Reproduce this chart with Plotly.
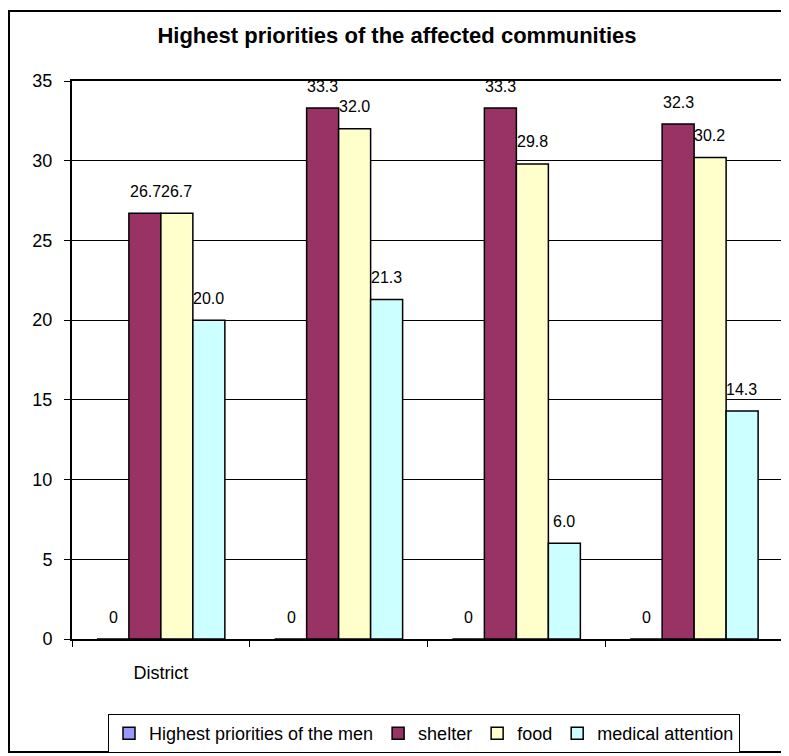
import plotly.graph_objects as go

categories = ["District", " ", "  ", "   "]
series_names = ["Highest priorities of the men", "shelter", "food", "medical attention"]
men = [0, 0, 0, 0]
shelter = [26.7, 33.3, 33.3, 32.3]
food = [26.7, 32.0, 29.8, 30.2]
medical = [20.0, 21.3, 6.0, 14.3]
label_fmt = ["{:.0f}", "{:.1f}", "{:.1f}", "{:.1f}"]
colors = ["#9999FF", "#993366", "#FFFFCC", "#CCFFFF"]
y_ticks = [0, 5, 10, 15, 20, 25, 30, 35]

FONT = "Liberation Sans, Arial, sans-serif"
all_series = [men, shelter, food, medical]

# page has an 8px body margin; work in figure coordinates
W, H = 781, 748
L, R, T, B = 64, 6, 73, 117
PW, PH = W - L - R, H - T - B

fig = go.Figure()
for name, vals, col in zip(series_names, all_series, colors):
    fig.add_trace(go.Bar(
        x=categories, y=vals, name=name,
        marker=dict(color=col, line=dict(color="black", width=1.5)),
    ))

bar_px = 31.7
annotations = []
for i, (vals, fmt) in enumerate(zip(all_series, label_fmt)):
    for c, v in zip(categories, vals):
        annotations.append(dict(
            x=c, y=v, xref="x", yref="y", text=fmt.format(v), showarrow=False,
            xshift=(i - 1.5) * bar_px, yshift=22,
            font=dict(family=FONT, size=16, color="black"),
        ))

fig.update_layout(
    width=W, height=H,
    margin=dict(l=L, r=R, t=T, b=B, autoexpand=False),
    paper_bgcolor="white", plot_bgcolor="white",
    barmode="group", bargap=0.28, bargroupgap=0,
    title=dict(text="<b>Highest priorities of the affected communities</b>",
               x=389 / W, xanchor="center",
               y=1 - 27 / H, yanchor="middle",
               font=dict(family=FONT, size=22, color="black")),
    font=dict(family=FONT, size=18, color="black"),
    showlegend=True,
    legend=dict(orientation="h", x=(416 - L) / PW, xanchor="center",
                y=-(706 - (H - B)) / PH, yanchor="top",
                bordercolor="black", borderwidth=1, bgcolor="white",
                font=dict(family=FONT, size=18, color="black"),
                itemwidth=30, traceorder="normal"),
    annotations=annotations,
    xaxis=dict(type="category", showline=True, linecolor="black", linewidth=2, mirror=True,
               ticks="outside", tickson="boundaries", ticklen=6, tickcolor="black",
               showgrid=False, ticklabelstandoff=16,
               tickfont=dict(family=FONT, size=18, color="black")),
    yaxis=dict(range=[0, 35], tickvals=y_ticks, showline=True, linecolor="black", linewidth=2,
               mirror=True, ticks="outside", ticklen=6, tickcolor="black",
               showgrid=True, gridcolor="black", gridwidth=1, zeroline=False,
               ticklabelstandoff=8,
               tickfont=dict(family=FONT, size=18, color="black")),
    shapes=[dict(type="rect", xref="paper", yref="paper",
                 x0=(1 - L) / PW, x1=(W + 20 - L) / PW,
                 y0=-(744 - (H - B)) / PH, y1=1 + (T - 3) / PH,
                 line=dict(color="black", width=2), fillcolor="rgba(0,0,0,0)", layer="below")],
)

fig.write_html("out.html")
